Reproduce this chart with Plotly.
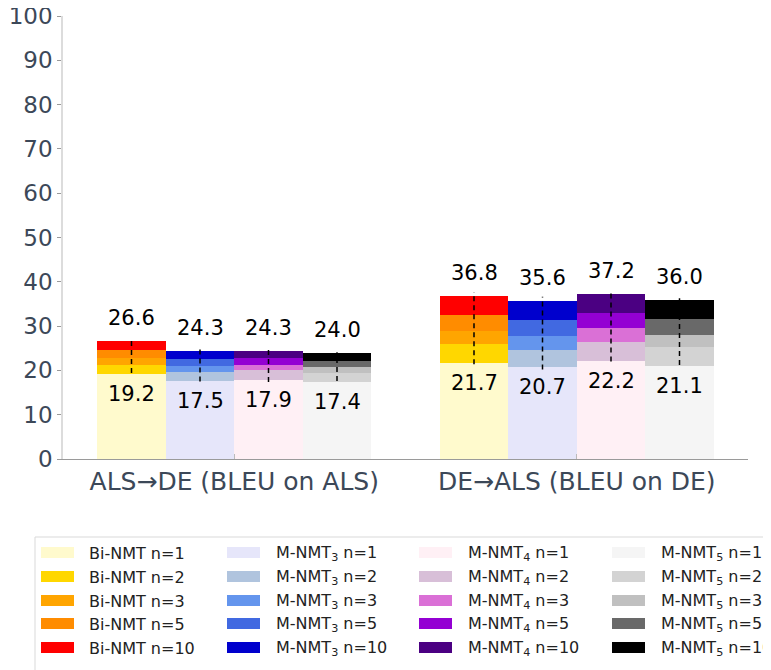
import plotly.graph_objects as go

# Data
directions = ['ALS→DE (BLEU on ALS)', 'DE→ALS (BLEU on DE)']
models = ['Bi-NMT', 'M-NMT<sub>3</sub>', 'M-NMT<sub>4</sub>', 'M-NMT<sub>5</sub>']
n_values = [1, 2, 3, 5, 10]

# scores[model][n index] = [ALS->DE, DE->ALS]
bi_nmt = [[19.2, 21.7], [21.3, 25.9], [22.8, 28.8], [24.5, 32.6], [26.6, 36.8]]
m_nmt3 = [[17.5, 20.7], [19.6, 24.7], [21.0, 27.7], [22.6, 31.4], [24.3, 35.6]]
m_nmt4 = [[17.9, 22.2], [20.0, 26.4], [21.3, 29.5], [22.8, 33.0], [24.3, 37.2]]
m_nmt5 = [[17.4, 21.1], [19.5, 25.3], [20.7, 28.0], [22.1, 31.7], [24.0, 36.0]]
scores = [bi_nmt, m_nmt3, m_nmt4, m_nmt5]

# dashed range lines (low, high) per model, per direction
range_lo = [[19.4, 21.4], [17.5, 20.2], [17.4, 22.0], [17.6, 21.2]]
range_hi = [[27.3, 37.7], [25.0, 36.6], [25.1, 37.6], [24.1, 36.3]]

colors = [
    ['#FFFACD', '#FFD700', '#FFA500', '#FF8C00', '#FF0000'],
    ['#E6E6FA', '#B0C4DE', '#6495ED', '#4169E1', '#0000CD'],
    ['#FFF0F5', '#D8BFD8', '#DA70D6', '#9400D3', '#4B0082'],
    ['#F5F5F5', '#D3D3D3', '#C0C0C0', '#696969', '#000000'],
]

FONT = 'DejaVu Sans'
bar_w = 0.2
group_x = [0, 1]

fig = go.Figure()

# Bars overlaid: tallest (n=10) first, n=1 on top
for m in range(len(models)):
    offset = (m - 1.5) * bar_w
    xs = [g + offset for g in group_x]
    for k in reversed(range(len(n_values))):
        fig.add_trace(go.Bar(
            x=xs, y=scores[m][k], width=bar_w,
            marker=dict(color=colors[m][k], line=dict(width=0)),
            showlegend=False, hoverinfo='skip'))

# Dashed vertical lines
for m in range(len(models)):
    offset = (m - 1.5) * bar_w
    lx, ly = [], []
    for g in range(len(group_x)):
        lx += [group_x[g] + offset, group_x[g] + offset, None]
        ly += [range_lo[m][g], range_hi[m][g], None]
    fig.add_trace(go.Scatter(x=lx, y=ly, mode='lines',
                             line=dict(color='black', width=1.5, dash='5px,4px'),
                             showlegend=False, hoverinfo='skip'))

# Value labels
for m in range(len(models)):
    offset = (m - 1.5) * bar_w
    for g in range(len(group_x)):
        top = scores[m][-1][g]
        low = scores[m][0][g]
        fig.add_annotation(x=group_x[g] + offset, y=top, text=f'{top:.1f}',
                           showarrow=False, yshift=23,
                           font=dict(family=FONT, size=21, color='black'))
        fig.add_annotation(x=group_x[g] + offset, y=low, text=f'{low:.1f}',
                           showarrow=False, yshift=-20,
                           font=dict(family=FONT, size=21, color='black'))


# Legend drawn by hand (matplotlib-like wide swatches); pixel -> paper helpers
def px_x(p):
    return (p - 63) / 685


def px_y(p):
    return (459 - p) / 443


fig.add_shape(type='rect', xref='paper', yref='paper',
              x0=px_x(35), x1=px_x(800), y0=px_y(537), y1=px_y(700),
              line=dict(color='#d9d9d9', width=1), fillcolor='white', layer='below')

col_swatch = [41, 227, 419, 612]
col_text = [87, 274, 466, 659]
row_y = [553, 577, 601, 624, 648]
for m in range(len(models)):
    for k in range(len(n_values)):
        yc = row_y[k]
        fig.add_shape(type='rect', xref='paper', yref='paper',
                      x0=px_x(col_swatch[m]), x1=px_x(col_swatch[m] + 33),
                      y0=px_y(yc - 6), y1=px_y(yc + 5),
                      line=dict(width=0), fillcolor=colors[m][k])
        fig.add_annotation(xref='paper', yref='paper',
                           x=px_x(col_text[m]), y=px_y(yc),
                           xanchor='left', yanchor='middle', showarrow=False,
                           text=f'{models[m]} n={n_values[k]}',
                           font=dict(family=FONT, size=16, color='#222222'))

# page body adds an 8px offset, so margins are set 8px smaller on left/top
fig.update_layout(
    width=771, height=670,
    barmode='overlay',
    bargap=0,
    plot_bgcolor='white', paper_bgcolor='white',
    margin=dict(l=55, r=31, t=8, b=219),
    font=dict(family=FONT, color='#3c4858'),
    showlegend=False,
)
fig.update_xaxes(range=[-0.5, 1.5], tickvals=group_x, ticktext=directions,
                 tickfont=dict(size=25, color='#3c4858'),
                 showgrid=False, zeroline=False, showline=True,
                 linecolor='#9a9a9a', linewidth=1,
                 ticks='inside', ticklen=5, tickcolor='#bbbbbb',
                 automargin=False)
fig.update_yaxes(range=[0, 100], dtick=10,
                 tickfont=dict(size=23, color='#3c4858'),
                 showgrid=False, zeroline=False, showline=True,
                 linecolor='#dcdcdc', linewidth=1.5,
                 ticks='outside', ticklen=4, tickcolor='#9a9a9a',
                 ticklabeloverflow='allow', automargin=False)

fig.write_html('out.html')
